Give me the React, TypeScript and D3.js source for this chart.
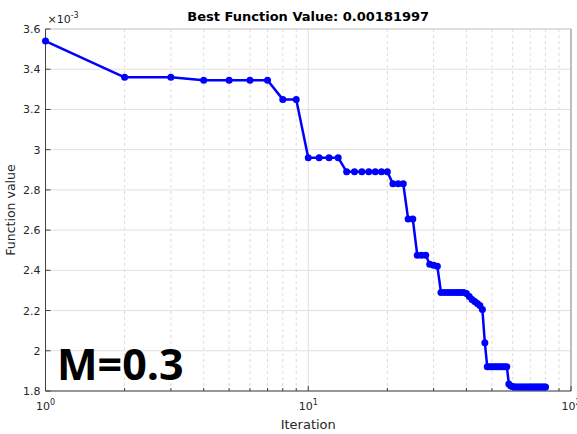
import React from "react";
import * as d3 from "d3";

// Best objective value found at each iteration (units of 1e-3)
const iterations: number[] = Array.from({ length: 80 }, (_, i) => i + 1);
const bestValues: number[] = [
  3.54, 3.36, 3.36, 3.345, 3.345, 3.345, 3.345, 3.25, 3.25, 2.96,
  2.96, 2.96, 2.96, 2.89, 2.89, 2.89, 2.89, 2.89, 2.89, 2.89,
  2.83, 2.83, 2.83, 2.655, 2.655, 2.475, 2.475, 2.475, 2.43, 2.425,
  2.42, 2.29, 2.29, 2.29, 2.29, 2.29, 2.29, 2.29, 2.29, 2.285,
  2.27, 2.255, 2.245, 2.235, 2.225, 2.205, 2.04, 1.92, 1.92, 1.92,
  1.92, 1.92, 1.92, 1.92, 1.92, 1.92, 1.92, 1.835, 1.825, 1.822,
  1.82, 1.82, 1.82, 1.82, 1.82, 1.82, 1.82, 1.82, 1.82, 1.82,
  1.82, 1.82, 1.82, 1.82, 1.82, 1.82, 1.82, 1.82, 1.82, 1.81997,
];

const yTicks: number[] = [1.8, 2, 2.2, 2.4, 2.6, 2.8, 3, 3.2, 3.4, 3.6];
const xMajorTicks: number[] = [1, 10, 100];
const xMinorTicks: number[] = [2, 3, 4, 5, 6, 7, 8, 9, 20, 30, 40, 50, 60, 70, 80, 90];

const titleText = "Best Function Value: 0.00181997";
const annotation = "M=0.3";

const W = 577;
const H = 434;
const left = 45.5;
const right = 571;
const top = 29;
const bottom = 391;

export default function App() {
  const x = d3.scaleLog().domain([1, 100]).range([left, right]);
  const y = d3.scaleLinear().domain([1.8, 3.6]).range([bottom, top]);

  const line = d3
    .line<number>()
    .x((_, i) => x(iterations[i]))
    .y((d) => y(d));

  const font = "DejaVu Sans, sans-serif";
  const axisColor = "#404040";

  return (
    <svg
      width={W}
      height={H}
      style={{ position: "absolute", left: 0, top: 0, background: "#fff" }}
    >
      <rect x={0} y={0} width={W} height={H} fill="#fff" />
      {/* grid */}
      {xMinorTicks.map((t) => (
        <line
          key={"mx" + t}
          x1={x(t)}
          x2={x(t)}
          y1={top}
          y2={bottom}
          stroke="#dcdcdc"
          strokeWidth={1}
          strokeDasharray="3,3"
        />
      ))}
      {xMajorTicks.map((t) => (
        <line key={"gx" + t} x1={x(t)} x2={x(t)} y1={top} y2={bottom} stroke="#e0e0e0" strokeWidth={1} />
      ))}
      {yTicks.map((t) => (
        <line key={"gy" + t} x1={left} x2={right} y1={y(t)} y2={y(t)} stroke="#e0e0e0" strokeWidth={1} />
      ))}

      {/* box */}
      <line x1={left} x2={right} y1={top} y2={top} stroke="#cfcfcf" strokeWidth={1} />
      <line x1={right} x2={right} y1={top} y2={bottom} stroke="#8c8c8c" strokeWidth={1} />
      <line x1={left} x2={left} y1={top} y2={bottom} stroke={axisColor} strokeWidth={1} />
      <line x1={left} x2={right} y1={bottom} y2={bottom} stroke={axisColor} strokeWidth={1} />

      {/* ticks */}
      {yTicks.map((t) => (
        <line key={"ty" + t} x1={left} x2={left + 5} y1={y(t)} y2={y(t)} stroke={axisColor} />
      ))}
      {xMajorTicks.map((t) => (
        <line key={"tx" + t} x1={x(t)} x2={x(t)} y1={bottom} y2={bottom - 5} stroke={axisColor} />
      ))}
      {xMinorTicks.map((t) => (
        <line key={"tmx" + t} x1={x(t)} x2={x(t)} y1={bottom} y2={bottom - 3} stroke={axisColor} />
      ))}

      {/* tick labels */}
      {yTicks.map((t) => (
        <text
          key={"ly" + t}
          x={left - 5}
          y={y(t) + 4}
          textAnchor="end"
          fontFamily={font}
          fontSize={11}
          fill="#262626"
        >
          {d3.format("~g")(t)}
        </text>
      ))}
      {xMajorTicks.map((t) => (
        <text
          key={"lx" + t}
          x={x(t)}
          y={bottom + 19}
          textAnchor="middle"
          fontFamily={font}
          fontSize={11}
          fill="#262626"
        >
          10
          <tspan dy={-5} fontSize={8}>
            {Math.round(Math.log10(t))}
          </tspan>
        </text>
      ))}
      <text x={left + 2} y={23} fontFamily={font} fontSize={11} fill="#262626">
        ×10
        <tspan dy={-5} fontSize={8}>
          -3
        </tspan>
      </text>

      {/* data */}
      <path d={line(bestValues) || ""} fill="none" stroke="#0000ff" strokeWidth={2.5} strokeLinejoin="round" />
      {bestValues.map((v, i) => (
        <circle key={"p" + i} cx={x(iterations[i])} cy={y(v)} r={3.5} fill="#0000ff" />
      ))}

      {/* titles */}
      <text
        x={(left + right) / 2}
        y={21}
        textAnchor="middle"
        fontFamily={font}
        fontWeight="bold"
        fontSize={13}
        fill="#000"
      >
        {titleText}
      </text>
      <text
        x={(left + right) / 2}
        y={429}
        textAnchor="middle"
        fontFamily={font}
        fontSize={13}
        fill="#262626"
      >
        Iteration
      </text>
      <text
        transform={`translate(15, ${(top + bottom) / 2}) rotate(-90)`}
        textAnchor="middle"
        fontFamily={font}
        fontSize={12.5}
        fill="#262626"
      >
        Function value
      </text>

      <text x={57} y={380} fontFamily="Open Sans, sans-serif" fontWeight="bold" fontSize={43} fill="#000">
        {annotation}
      </text>
    </svg>
  );
}
